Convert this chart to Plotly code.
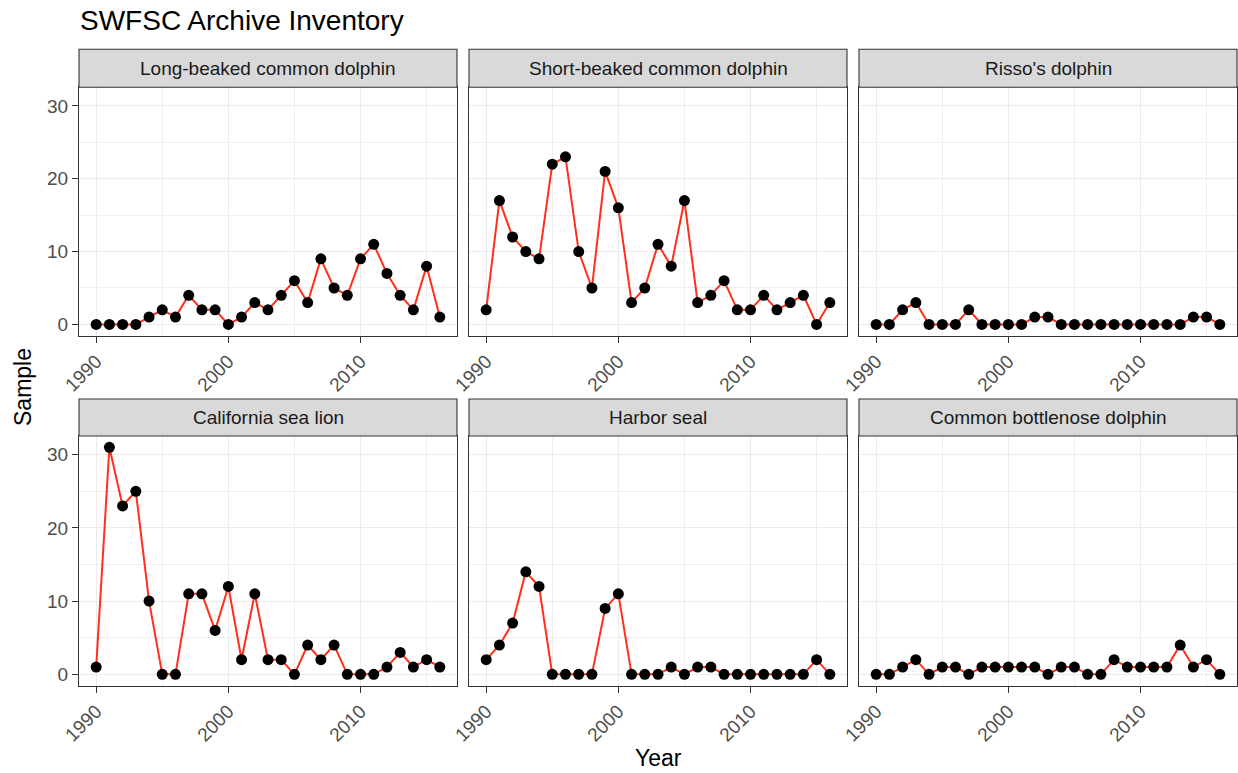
import plotly.graph_objects as go

# ---------------- data ----------------
years = list(range(1990, 2017))
species = [
    "Long-beaked common dolphin",
    "Short-beaked common dolphin",
    "Risso's dolphin",
    "California sea lion",
    "Harbor seal",
    "Common bottlenose dolphin",
]
long_beaked = [0, 0, 0, 0, 1, 2, 1, 4, 2, 2, 0, 1, 3, 2, 4, 6, 3, 9, 5, 4, 9, 11, 7, 4, 2, 8, 1]
short_beaked = [2, 17, 12, 10, 9, 22, 23, 10, 5, 21, 16, 3, 5, 11, 8, 17, 3, 4, 6, 2, 2, 4, 2, 3, 4, 0, 3]
rissos = [0, 0, 2, 3, 0, 0, 0, 2, 0, 0, 0, 0, 1, 1, 0, 0, 0, 0, 0, 0, 0, 0, 0, 0, 1, 1, 0]
ca_sea_lion = [1, 31, 23, 25, 10, 0, 0, 11, 11, 6, 12, 2, 11, 2, 2, 0, 4, 2, 4, 0, 0, 0, 1, 3, 1, 2, 1]
harbor_seal = [2, 4, 7, 14, 12, 0, 0, 0, 0, 9, 11, 0, 0, 0, 1, 0, 1, 1, 0, 0, 0, 0, 0, 0, 0, 2, 0]
bottlenose = [0, 0, 1, 2, 0, 1, 1, 0, 1, 1, 1, 1, 1, 0, 1, 1, 0, 0, 2, 1, 1, 1, 1, 4, 1, 2, 0]
series = [long_beaked, short_beaked, rissos, ca_sea_lion, harbor_seal, bottlenose]

x_ticks = [1990, 2000, 2010]
y_ticks = [0, 10, 20, 30]

# ---------------- layout geometry (pixels) ----------------
W, H = 1238, 773
col_px = [(79, 457), (469, 847), (859, 1237)]
row_px = [(87.3, 335.7), (436.0, 685.7)]
strip_px = [(49.3, 87.3), (399.0, 436.0)]

def fx(px):
    return px / W

def fy(py):
    return 1 - py / H

FONT = "Liberation Sans, Arial, Helvetica, sans-serif"
LINE_COL = "#FF2F1A"
BORDER = "#333333"

fig = go.Figure()
layout = dict(
    width=W, height=H,
    margin=dict(l=0, r=0, t=0, b=0),
    paper_bgcolor="white", plot_bgcolor="white",
    showlegend=False,
    font=dict(family=FONT),
)
shapes = []
annotations = []

for i, (name, vals) in enumerate(zip(species, series)):
    r, c = divmod(i, 3)
    n = i + 1
    xa = "x" if n == 1 else f"x{n}"
    ya = "y" if n == 1 else f"y{n}"
    fig.add_trace(go.Scatter(
        x=years, y=vals, mode="lines+markers",
        line=dict(color=LINE_COL, width=2),
        marker=dict(color="black", size=11),
        xaxis=xa, yaxis=ya, cliponaxis=False,
    ))
    xk = "xaxis" if n == 1 else f"xaxis{n}"
    yk = "yaxis" if n == 1 else f"yaxis{n}"
    layout[xk] = dict(
        domain=[fx(col_px[c][0]), fx(col_px[c][1])],
        anchor=ya, range=[1988.7, 2017.3],
        tickmode="array", tickvals=x_ticks, ticktext=[str(v) for v in x_ticks],
        tickangle=-45, ticks="outside", ticklen=6, tickwidth=1.1, tickcolor=BORDER,
        tickfont=dict(size=19, color="#4D4D4D", family=FONT),
        showgrid=True, gridcolor="#EBEBEB", gridwidth=1.3,
        minor=dict(tickvals=[1995, 2005, 2015], showgrid=True, gridcolor="#EFEFEF", gridwidth=0.8, ticks=""),
        showline=True, mirror=True, linecolor=BORDER, linewidth=1.1,
        zeroline=False, automargin=False, fixedrange=True,
    )
    layout[yk] = dict(
        domain=[fy(row_px[r][1]), fy(row_px[r][0])],
        anchor=xa, range=[-1.55, 32.55],
        tickmode="array", tickvals=y_ticks,
        ticktext=[str(v) for v in y_ticks] if c == 0 else ["" for _ in y_ticks],
        showticklabels=(c == 0),
        ticks="outside" if c == 0 else "", ticklen=6, tickwidth=1.1, tickcolor=BORDER,
        tickfont=dict(size=19, color="#4D4D4D", family=FONT),
        showgrid=True, gridcolor="#EBEBEB", gridwidth=1.3,
        minor=dict(tickvals=[5, 15, 25], showgrid=True, gridcolor="#EFEFEF", gridwidth=0.8, ticks=""),
        showline=True, mirror=True, linecolor=BORDER, linewidth=1.1,
        zeroline=False, automargin=False, fixedrange=True,
    )
    # strip
    shapes.append(dict(
        type="rect", xref="paper", yref="paper",
        x0=fx(col_px[c][0]), x1=fx(col_px[c][1]),
        y0=fy(strip_px[r][1]), y1=fy(strip_px[r][0]),
        fillcolor="#D9D9D9", line=dict(color=BORDER, width=1.1), layer="above",
    ))
    annotations.append(dict(
        text=name, xref="paper", yref="paper",
        x=fx((col_px[c][0] + col_px[c][1]) / 2),
        y=fy((strip_px[r][0] + strip_px[r][1]) / 2),
        xanchor="center", yanchor="middle", showarrow=False,
        font=dict(size=19, color="#1A1A1A", family=FONT),
    ))

annotations.append(dict(
    text="SWFSC Archive Inventory", xref="paper", yref="paper",
    x=fx(78), y=fy(20), xanchor="left", yanchor="middle", showarrow=False,
    font=dict(size=28, color="black", family=FONT),
))
annotations.append(dict(
    text="Year", xref="paper", yref="paper",
    x=fx(658), y=fy(758), xanchor="center", yanchor="middle", showarrow=False,
    font=dict(size=23, color="black", family=FONT),
))
annotations.append(dict(
    text="Sample", xref="paper", yref="paper",
    x=fx(23), y=fy(387), xanchor="center", yanchor="middle", showarrow=False,
    textangle=-90, font=dict(size=23, color="black", family=FONT),
))

layout["shapes"] = shapes
layout["annotations"] = annotations
fig.update_layout(**layout)
fig.write_html(
    "out.html",
    config={"displayModeBar": False, "staticPlot": False},
    post_script="document.body.style.margin='0';document.body.style.padding='0';document.body.style.overflow='hidden';",
)
